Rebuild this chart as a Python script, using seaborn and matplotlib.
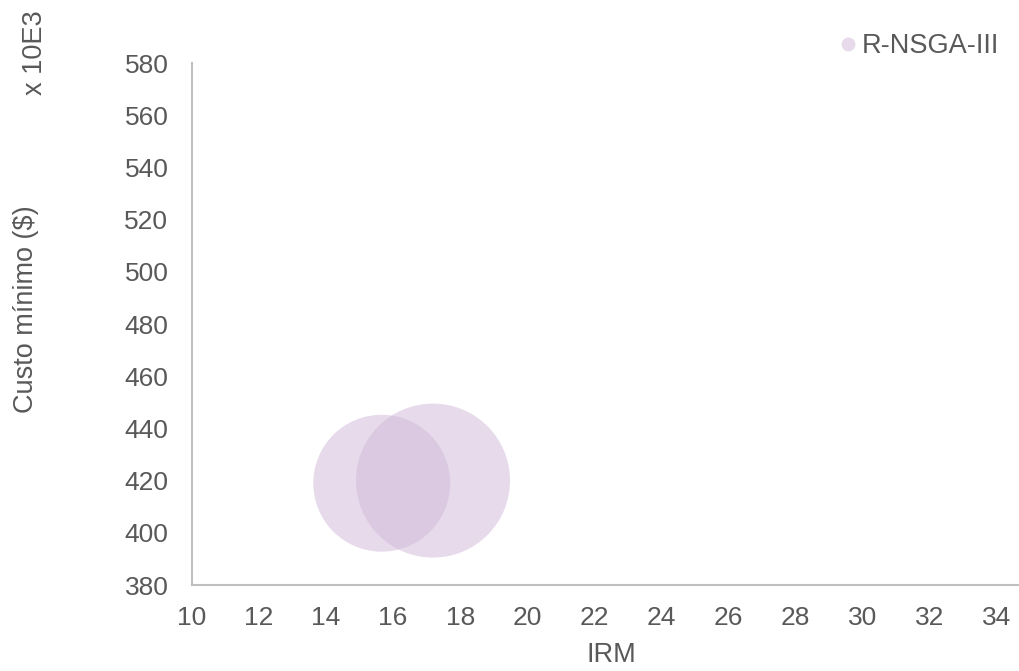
import matplotlib
matplotlib.use("Agg")
import matplotlib.pyplot as plt
from matplotlib.lines import Line2D
import seaborn as sns
import pandas as pd

# Solutions found by R-NSGA-III: reliability index (IRM), minimum cost (x 10E3 $), bubble size
irm = [15.66, 17.19]
custo = [419.0, 420.0]
tamanho = [79, 100]
serie = ["R-NSGA-III", "R-NSGA-III"]

x_ticks = list(range(10, 35, 2))
y_ticks = list(range(380, 581, 20))

df = pd.DataFrame({"IRM": irm, "Custo": custo, "Tamanho": tamanho, "Serie": serie})

sns.set_theme(style="white")
plt.rcParams["font.family"] = ["Liberation Sans", "DejaVu Sans"]

text_color = "#595959"
bubble_color = (211 / 255, 188 / 255, 220 / 255)

fig = plt.figure(figsize=(10.19, 6.71), dpi=100)
ax = fig.add_axes([192 / 1019, 1 - 585 / 671, (1030 - 192) / 1019, (585 - 63) / 671])

sns.scatterplot(
    data=df, x="IRM", y="Custo", size="Tamanho",
    sizes=(0, 12300), size_norm=(0, 100),
    color=bubble_color, alpha=0.55, edgecolor="none",
    legend=False, ax=ax, clip_on=False,
)

ax.set_xlim(10, 35)
ax.set_ylim(380, 580)
ax.set_xticks(x_ticks)
ax.set_yticks(y_ticks)
ax.tick_params(axis="both", length=0, labelsize=19, colors=text_color)
ax.tick_params(axis="x", pad=15)
ax.tick_params(axis="y", pad=17)

for side in ["top", "right"]:
    ax.spines[side].set_visible(False)
for side in ["left", "bottom"]:
    ax.spines[side].set_color("#BFBFBF")
    ax.spines[side].set_linewidth(1.5)

ax.set_xlabel("")
ax.set_ylabel("")

fig.text(611 / 1019, 1 - 655 / 671, "IRM", ha="center", va="center",
         fontsize=19.5, color=text_color)
fig.text(26 / 1019, 1 - 309 / 671, "Custo mínimo ($)", ha="center", va="center",
         rotation=90, fontsize=19.5, color=text_color)
fig.text(35 / 1019, 1 - 53 / 671, "x 10E3", ha="center", va="center",
         rotation=90, fontsize=19.5, color=text_color)

# Legend entry for the single series
handle = Line2D([], [], marker="o", linestyle="none", markersize=10,
                markerfacecolor=bubble_color, markeredgecolor="none", alpha=0.55)
fig.legend([handle], ["R-NSGA-III"], loc="center left",
           bbox_to_anchor=(837 / 1019, 1 - 46 / 671), frameon=False,
           fontsize=19.5, labelcolor=text_color, handletextpad=0.1,
           handlelength=0.8, borderaxespad=0, borderpad=0)

fig.savefig("out.png", dpi=100)
